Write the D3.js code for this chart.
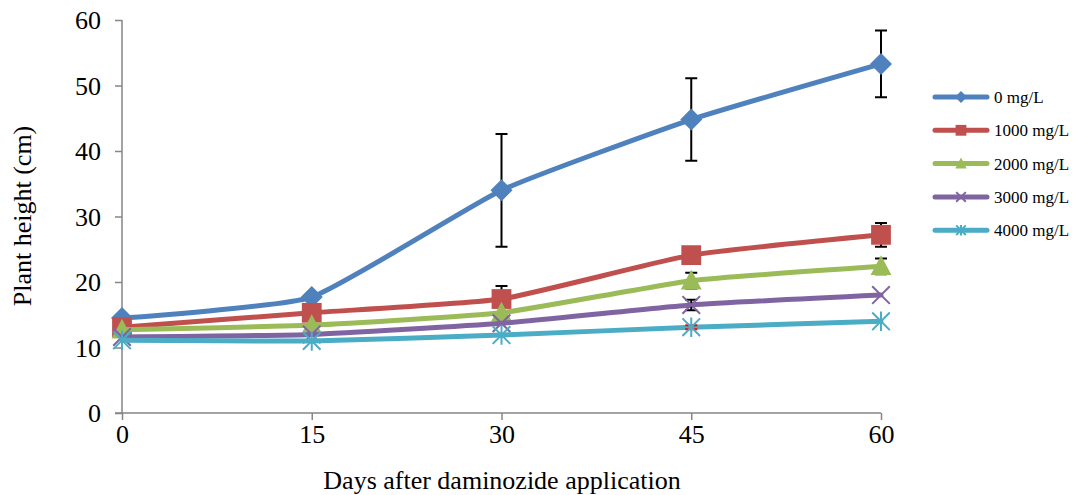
<!DOCTYPE html>
<html><head><meta charset="utf-8">
<script src="https://cdn.jsdelivr.net/npm/d3@7"></script>
<style>body{margin:0;background:#fff}svg{display:block}text{font-family:"Liberation Serif","Times New Roman",serif;fill:#000}</style>
</head><body>
<svg id="c" width="1076" height="495"></svg>
<script>
const days = [0, 15, 30, 45, 60];
const seriesNames = ["0 mg/L", "1000 mg/L", "2000 mg/L", "3000 mg/L", "4000 mg/L"];
const v0 = [14.5, 17.7, 34.0, 44.8, 53.3];
const v1000 = [13.1, 15.3, 17.4, 24.1, 27.2];
const v2000 = [12.7, 13.4, 15.3, 20.2, 22.4];
const v3000 = [11.6, 12.0, 13.7, 16.5, 18.0];
const v4000 = [11.1, 11.0, 11.9, 13.1, 14.0];
const e0 = [0, 0, 8.6, 6.3, 5.1];
const e1000 = [0, 0, 2.0, 0.4, 1.8];
const e2000 = [0, 0, 0, 1.2, 1.2];
const e3000 = [0, 0, 0, 0.8, 0];
const e4000 = [0, 0, 0, 0.3, 0];
const colors = ["#4F81BD", "#C0504D", "#9BBB59", "#8064A2", "#4BACC6"];
const markers = ["diamond", "square", "triangle", "x", "star"];
const yTicks = [0, 10, 20, 30, 40, 50, 60];
const xTicks = [0, 15, 30, 45, 60];

const values = [v0, v1000, v2000, v3000, v4000];
const errs = [e0, e1000, e2000, e3000, e4000];

const svg = d3.select("#c");
const x = d3.scaleLinear().domain([0, 60]).range([122, 881]);
const y = d3.scaleLinear().domain([0, 60]).range([413, 20]);
const axisColor = "#868686";

// y axis
const ya = svg.append("g").attr("transform", "translate(122,0)")
  .call(d3.axisLeft(y).tickValues(yTicks).tickSize(7).tickPadding(14));
ya.attr("font-family", null);
ya.select(".domain").attr("stroke", axisColor).attr("stroke-width", 1.5).attr("d", "M0,20V413");
ya.selectAll(".tick line").attr("stroke", axisColor).attr("stroke-width", 1.5);
ya.selectAll(".tick text").attr("font-size", 26).attr("dy", "0.34em");

// x axis
const xa = svg.append("g").attr("transform", "translate(0,413)")
  .call(d3.axisBottom(x).tickValues(xTicks).tickSize(7).tickPadding(5));
xa.attr("font-family", null);
xa.select(".domain").attr("stroke", axisColor).attr("stroke-width", 1.5).attr("d", "M115,0H881");
xa.selectAll(".tick line").attr("stroke", axisColor).attr("stroke-width", 1.5);
xa.selectAll(".tick text").attr("font-size", 26);

// titles
svg.append("text").attr("x", 502).attr("y", 489).attr("text-anchor", "middle")
  .attr("font-size", 26).text("Days after daminozide application");
svg.append("text").attr("transform", "translate(31,216) rotate(-90)").attr("text-anchor", "middle")
  .attr("font-size", 26).text("Plant height (cm)");

function drawMarker(g, type, cx, cy, color, s) {
  if (type === "diamond") {
    g.append("path").attr("d", `M${cx},${cy - s}L${cx + s},${cy}L${cx},${cy + s}L${cx - s},${cy}Z`).attr("fill", color);
  } else if (type === "square") {
    g.append("rect").attr("x", cx - s * 0.9).attr("y", cy - s * 0.9).attr("width", s * 1.8).attr("height", s * 1.8).attr("fill", color);
  } else if (type === "triangle") {
    g.append("path").attr("d", `M${cx},${cy - s}L${cx + s * 0.95},${cy + s * 0.8}L${cx - s * 0.95},${cy + s * 0.8}Z`).attr("fill", color);
  } else if (type === "x") {
    const r = s * 0.8;
    g.append("path").attr("d", `M${cx - r},${cy - r}L${cx + r},${cy + r}M${cx - r},${cy + r}L${cx + r},${cy - r}`)
      .attr("stroke", color).attr("stroke-width", 2);
  } else if (type === "star") {
    const r = s * 0.8;
    g.append("path").attr("d", `M${cx - r},${cy - r}L${cx + r},${cy + r}M${cx - r},${cy + r}L${cx + r},${cy - r}M${cx},${cy - r * 1.1}V${cy + r * 1.1}`)
      .attr("stroke", color).attr("stroke-width", 2);
  }
}

const line = d3.line().x(d => x(d[0])).y(d => y(d[1])).curve(d3.curveCardinal.tension(0.55));

// lines, error bars, markers per series
values.forEach((vals, i) => {
  const g = svg.append("g");
  const pts = days.map((d, j) => [d, vals[j]]);
  g.append("path").attr("d", line(pts)).attr("fill", "none").attr("stroke", colors[i])
    .attr("stroke-width", 5).attr("stroke-linejoin", "round").attr("stroke-linecap", "round");
  days.forEach((d, j) => {
    const e = errs[i][j];
    if (e > 0) {
      const cx = x(d), y1 = y(vals[j] + e), y2 = y(vals[j] - e);
      const ec = (i === 4) ? "#ff0000" : "#000";
      g.append("path").attr("d", `M${cx},${y1}V${y2}M${cx - 6},${y1}H${cx + 6}M${cx - 6},${y2}H${cx + 6}`)
        .attr("stroke", ec).attr("stroke-width", 2).attr("fill", "none");
    }
  });
  days.forEach((d, j) => drawMarker(g, markers[i], x(d), y(vals[j]), colors[i], 11));
});

// legend
const lg = svg.append("g");
seriesNames.forEach((n, i) => {
  const ly = 97 + i * 33.3;
  lg.append("line").attr("x1", 935).attr("x2", 987).attr("y1", ly).attr("y2", ly)
    .attr("stroke", colors[i]).attr("stroke-width", 5).attr("stroke-linecap", "round");
  drawMarker(lg, markers[i], 961, ly, colors[i], 6);
  lg.append("text").attr("x", 994).attr("y", ly).attr("dy", "0.35em").attr("font-size", 17).text(n);
});
</script>
</body></html>
